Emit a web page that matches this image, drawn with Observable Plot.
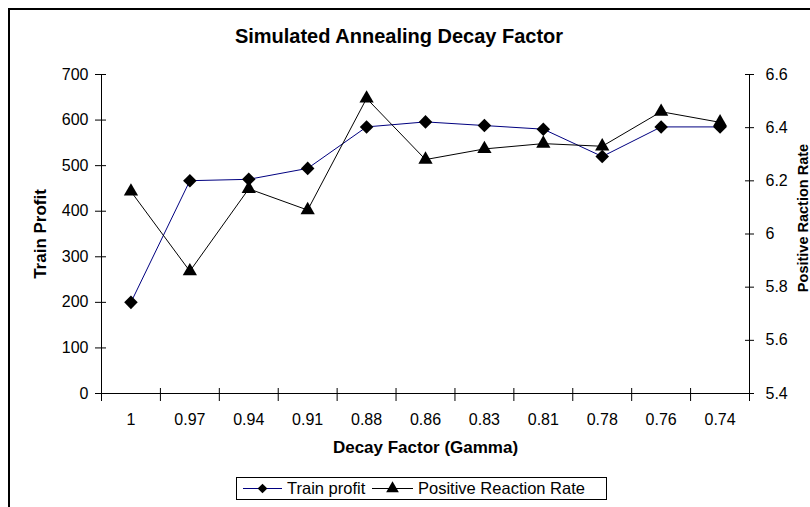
<!DOCTYPE html>
<html><head><meta charset="utf-8">
<script src="https://cdn.jsdelivr.net/npm/d3@7"></script>
<script src="https://cdn.jsdelivr.net/npm/@observablehq/plot@0.6"></script>
<style>
body{margin:0;overflow:hidden;background:#fff;font-family:"Liberation Sans",Arial,sans-serif;color:#000;}
#wrap{position:relative;width:810px;height:507px;overflow:hidden;background:#fff;}
#frame{position:absolute;left:8px;top:8px;width:900px;height:600px;border-left:2px solid #000;border-top:2px solid #000;}
#title{position:absolute;left:0;width:798px;top:24px;text-align:center;font-weight:bold;font-size:20px;line-height:24px;}
#chart{position:absolute;left:0;top:56px;}
#legend{position:absolute;left:236px;top:477px;width:369px;height:21px;border:1px solid #000;background:#fff;font-size:16.5px;}
.item{position:absolute;top:0;height:21px;line-height:21px;white-space:nowrap;}
</style></head>
<body><div id="wrap"><div id="frame"></div><div id="title">Simulated Annealing Decay Factor</div><div id="chart"></div><div id="legend"></div></div>
<script>
const categories = ["1","0.97","0.94","0.91","0.88","0.86","0.83","0.81","0.78","0.76","0.74"];
const trainProfit = [200, 467, 470, 494, 585, 596, 588, 580, 520, 585, 585];
const positiveRate = [6.16, 5.86, 6.17, 6.09, 6.51, 6.28, 6.32, 6.34, 6.33, 6.46, 6.42];
const leftTicks = [0, 100, 200, 300, 400, 500, 600, 700];
const rightTicks = [5.4, 5.6, 5.8, 6, 6.2, 6.4, 6.6];
const seriesNames = ["Train profit", "Positive Reaction Rate"];

const leftMin = 0, leftMax = 700, rightMin = 5.4, rightMax = 6.6;
const toLeft = v => leftMin + (v - rightMin) / (rightMax - rightMin) * (leftMax - leftMin);
const fromLeft = d => rightMin + (d - leftMin) / (leftMax - leftMin) * (rightMax - rightMin);

const idx = categories.map((_, i) => i);
const boundaries = d3.range(categories.length + 1).map(i => i - 0.5);
const profitData = idx.map(i => ({i, v: trainProfit[i]}));
const rateData = idx.map(i => ({i, v: toLeft(positiveRate[i])}));
const blank = () => "";

const plot = Plot.plot({
  width: 810, height: 414,
  marginLeft: 101, marginRight: 61, marginTop: 18, marginBottom: 77,
  style: {fontFamily: "'Liberation Sans', Arial, sans-serif", fontSize: "16px", background: "transparent", color: "#000", overflow: "visible"},
  x: {type: "linear", domain: [-0.5, categories.length - 0.5]},
  y: {domain: [leftMin, leftMax]},
  marks: [
    Plot.axisX({ticks: idx, tickSize: 0, tickPadding: 20, tickFormat: i => categories[i], label: null}),
    Plot.axisX({ticks: boundaries, tickSize: 8, tickFormat: blank, label: null}),
    Plot.axisX({ticks: boundaries, tickSize: -5, tickFormat: blank, label: null}),
    Plot.axisY({ticks: leftTicks, tickSize: 0, tickPadding: 13, label: null}),
    Plot.axisY({ticks: leftTicks, tickSize: 6, tickFormat: blank, label: null}),
    Plot.axisY({ticks: leftTicks, tickSize: -5, tickFormat: blank, label: null}),
    Plot.axisY({anchor: "right", ticks: rightTicks.map(toLeft), tickSize: 0, tickPadding: 16,
      tickFormat: d => String(+fromLeft(d).toFixed(1)), label: null}),
    Plot.axisY({anchor: "right", ticks: rightTicks.map(toLeft), tickSize: 4, tickFormat: blank, label: null}),
    Plot.axisY({anchor: "right", ticks: rightTicks.map(toLeft), tickSize: -5, tickFormat: blank, label: null}),
    Plot.ruleY([leftMin], {stroke: "#000"}),
    Plot.ruleX([-0.5, categories.length - 0.5], {stroke: "#000"}),
    Plot.line(profitData, {x: "i", y: "v", stroke: "#000080", strokeWidth: 1}),
    Plot.line(rateData, {x: "i", y: "v", stroke: "#000", strokeWidth: 1}),
    Plot.dot(profitData, {x: "i", y: "v", symbol: d3.symbolDiamond2, fill: "#000", stroke: "none", r: 6.1}),
    Plot.dot(rateData, {x: "i", y: "v", symbol: "triangle", fill: "#000", stroke: "none", r: 5.3}),
    Plot.text(["Train Profit"], {frameAnchor: "left", textAnchor: "middle", dx: -61, rotate: -90, fontWeight: "bold", fontSize: 17}),
    Plot.text(["Positive Raction Rate"], {frameAnchor: "right", textAnchor: "middle", dx: 54, dy: -16, rotate: -90, fontWeight: "bold", fontSize: 14.5}),
    Plot.text(["Decay Factor (Gamma)"], {frameAnchor: "bottom", dy: 59, fontWeight: "bold", fontSize: 17})
  ]
});
document.getElementById("chart").appendChild(plot);

// legend
const legend = d3.select("#legend");
const items = [
  {name: seriesNames[0], color: "#000080", sym: d3.symbolDiamond2, size: 60, lineLeft: 6, lineW: 39, textLeft: 50},
  {name: seriesNames[1], color: "#000", sym: d3.symbolTriangle, size: 70, lineLeft: 135, lineW: 41, textLeft: 181}
];
items.forEach(it => {
  const s = legend.append("svg").attr("class", "item").style("left", it.lineLeft + "px")
    .attr("width", it.lineW).attr("height", 21);
  s.append("line").attr("x1", 0).attr("x2", it.lineW).attr("y1", 10.5).attr("y2", 10.5).attr("stroke", it.color);
  s.append("path").attr("d", d3.symbol(it.sym, it.size)()).attr("transform", `translate(${it.lineW/2},10.5)`).attr("fill", "#000");
  legend.append("div").attr("class", "item").style("left", it.textLeft + "px").text(it.name);
});
</script>
</body></html>
